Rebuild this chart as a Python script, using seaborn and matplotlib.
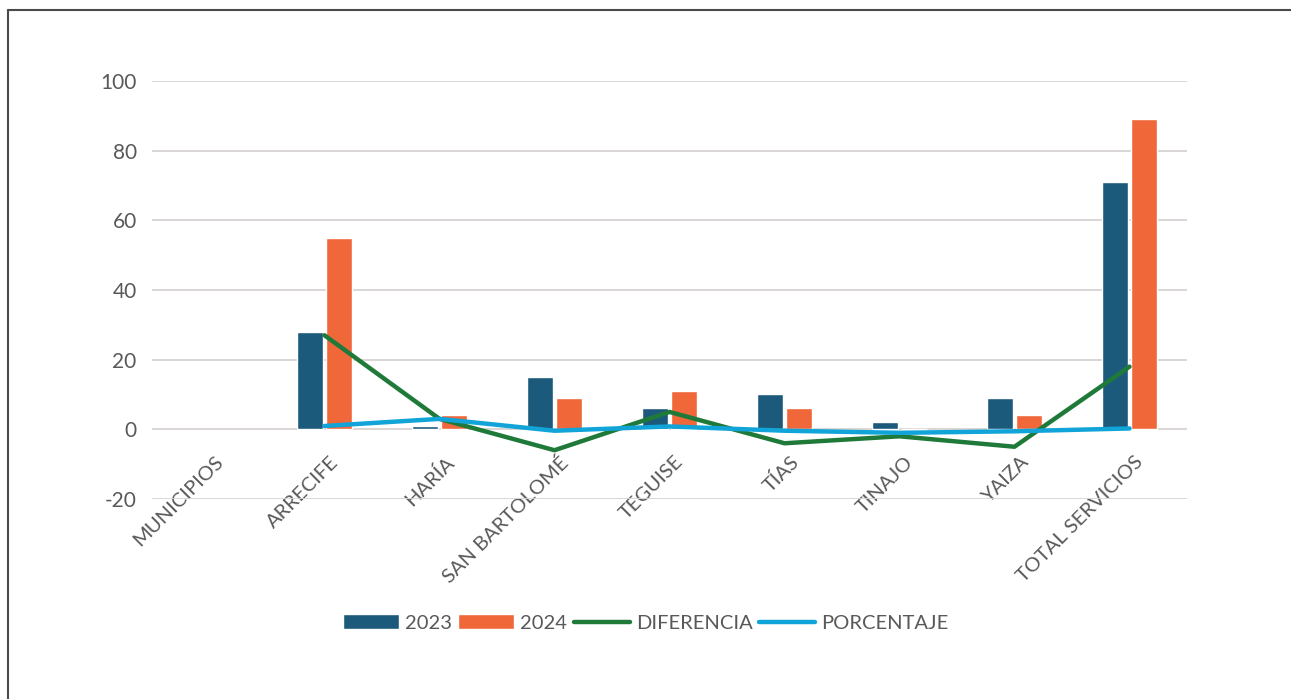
import matplotlib
matplotlib.use("Agg")
import matplotlib.pyplot as plt
import matplotlib.transforms as mtransforms
from matplotlib.lines import Line2D
import numpy as np
import pandas as pd
import seaborn as sns

municipios = ["MUNICIPIOS", "ARRECIFE", "HARÍA", "SAN BARTOLOMÉ", "TEGUISE",
              "TÍAS", "TINAJO", "YAIZA", "TOTAL SERVICIOS"]
v2023 = [np.nan, 28, 1, 15, 6, 10, 2, 9, 71]
v2024 = [np.nan, 55, 4, 9, 11, 6, 0, 4, 89]
diferencia = [np.nan, 27, 3, -6, 5, -4, -2, -5, 18]
porcentaje = [np.nan, 0.96, 3.0, -0.4, 0.83, -0.4, -1.0, -0.56, 0.25]
yticks = [-20, 0, 20, 40, 60, 80, 100]

sns.set_theme(style="white")
plt.rcParams['font.family'] = ['Lato', 'DejaVu Sans']
plt.rcParams['axes.unicode_minus'] = False
txt = "#595959"

bars = pd.DataFrame({
    "municipio": municipios * 2,
    "valor": v2023 + v2024,
    "año": ["2023"] * len(municipios) + ["2024"] * len(municipios),
})
pos = np.arange(len(municipios))
lines = pd.DataFrame({"x": pos, "dif": diferencia, "pct": porcentaje})

fig = plt.figure(figsize=(12.91, 6.99), dpi=100)
ax = fig.add_axes([152 / 1291, 200 / 699, 1035 / 1291, 418 / 699])

sns.barplot(data=bars, x="municipio", y="valor", hue="año", order=municipios,
            hue_order=["2023", "2024"], palette=["#1C5A7C", "#F0673A"],
            width=0.5, gap=0.1, saturation=1, errorbar=None, ax=ax)
sns.lineplot(data=lines, x="x", y="dif", color="#1F7A3A", lw=3.2,
             label="DIFERENCIA", ax=ax)
sns.lineplot(data=lines, x="x", y="pct", color="#10A4D8", lw=3.2,
             label="PORCENTAJE", ax=ax)

ax.set_xlim(-0.5, len(municipios) - 0.5)
ax.set_ylim(-20, 100)
ax.set_yticks(yticks)
ax.yaxis.grid(True, color="#D9D3D3", lw=1.3)
ax.set_axisbelow(True)
for s in ax.spines.values():
    s.set_visible(False)
ax.set_xlabel("")
ax.set_ylabel("")
ax.set_xticks(pos)
ax.set_xticklabels(municipios, rotation=45, ha="right", rotation_mode="anchor")
ax.tick_params(axis="x", length=0, pad=-33, labelsize=14.5, labelcolor=txt)
ax.tick_params(axis="y", length=0, pad=11, labelsize=15, labelcolor=txt)
shift = mtransforms.ScaledTranslation(5 / 100, 0, fig.dpi_scale_trans)
for lab in ax.get_xticklabels():
    lab.set_transform(lab.get_transform() + shift)

h, l = ax.get_legend_handles_labels()
ax.get_legend().remove() if ax.get_legend() else None
fig.legend(h, l, loc="center", bbox_to_anchor=(0.5, 1 - 623 / 699), ncol=4,
           frameon=False, fontsize=14.5, labelcolor=txt, handlelength=2.8,
           handleheight=0.75, handletextpad=0.3, columnspacing=0.3)

fig.add_artist(Line2D([8 / 1291, 8 / 1291], [0, 1 - 10 / 699], color="#4A4A4A", lw=1.5))
fig.add_artist(Line2D([8 / 1291, 1], [1 - 10 / 699, 1 - 10 / 699], color="#4A4A4A", lw=1.5))

fig.savefig("out.png", dpi=100)
